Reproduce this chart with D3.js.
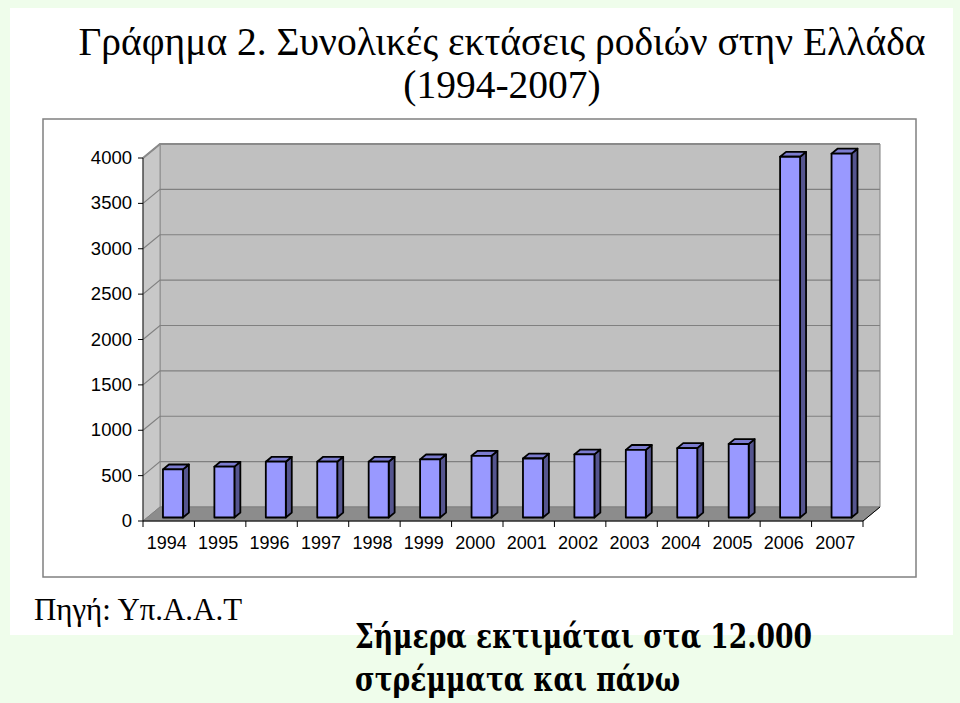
<!DOCTYPE html>
<html><head><meta charset="utf-8">
<script src="https://cdn.jsdelivr.net/npm/d3@7"></script>
<style>
html,body{margin:0;padding:0;background:#effdeb;}
svg{display:block;}
</style></head>
<body>
<svg id="c" width="960" height="703"></svg>
<script>
const years = ["1994","1995","1996","1997","1998","1999","2000","2001","2002","2003","2004","2005","2006","2007"];
const areas = [530, 560, 615, 615, 615, 640, 680, 650, 695, 745, 765, 810, 3975, 4010];
const yTicks = [0, 500, 1000, 1500, 2000, 2500, 3000, 3500, 4000];
const titleLines = ["Γράφημα 2. Συνολικές εκτάσεις ροδιών στην Ελλάδα", "(1994-2007)"];
const sourceText = "Πηγή: Υπ.Α.Α.Τ";
const noteLines = ["Σήμερα εκτιμάται στα 12.000", "στρέμματα και πάνω"];

const svg = d3.select("#c");
// white panel
svg.append("rect").attr("x",10).attr("y",8).attr("width",943).attr("height",627).attr("fill","#ffffff");

// title
svg.append("g").selectAll("text").data(titleLines).join("text")
  .attr("x",502).attr("y",(d,i)=>55+i*43).attr("text-anchor","middle")
  .attr("font-family","Liberation Serif, Times New Roman, serif").attr("font-size",39.5).attr("fill","#000")
  .text(d=>d);

// chart box
svg.append("rect").attr("x",43).attr("y",119).attr("width",873).attr("height",458)
  .attr("fill","#fff").attr("stroke","#808080").attr("stroke-width",1.5);

// 3D geometry
const DX = 17, DY = 14;
const x = d3.scaleBand().domain(years).range([143, 863]).padding(0);
const y = d3.scaleLinear().domain([0, 4000]).range([521, 158]);
const P = (px, py, f) => [px + f*DX, py - f*DY];
const poly = pts => "M" + pts.map(p=>p.join(",")).join("L") + "Z";

const g = svg.append("g");
const x0 = x.range()[0], x1 = x.range()[1];
g.append("path").attr("d", poly([P(x0,y(0),1),P(x1,y(0),1),P(x1,y(4000),1),P(x0,y(4000),1)]))
  .attr("fill","#c0c0c0").attr("stroke","#808080").attr("stroke-width",1);
g.append("path").attr("d", poly([P(x0,y(0),0),P(x0,y(0),1),P(x0,y(4000),1),P(x0,y(4000),0)]))
  .attr("fill","#c8c8c8").attr("stroke","#909090").attr("stroke-width",1);
g.append("path").attr("d", poly([P(x0,y(0),0),P(x1,y(0),0),P(x1,y(0),1),P(x0,y(0),1)]))
  .attr("fill","#8c8c8c").attr("stroke","#808080").attr("stroke-width",1);
g.selectAll(".grid").data(yTicks.filter(t=>t>0)).join("path")
  .attr("d", t => "M"+P(x0,y(t),0).join(",")+"L"+P(x0,y(t),1).join(",")+"L"+P(x1,y(t),1).join(","))
  .attr("fill","none").attr("stroke","#808080").attr("stroke-width",1.2);
g.append("path").attr("d","M"+P(x0,y(4000),0).join(",")+"L"+P(x0,y(4000),1).join(",")+"L"+P(x1,y(4000),1).join(","))
  .attr("fill","none").attr("stroke","#8a8a8a").attr("stroke-width",2);

g.selectAll(".yt").data(yTicks).join("line")
  .attr("x1",x0-5).attr("x2",x0).attr("y1",d=>y(d)).attr("y2",d=>y(d)).attr("stroke","#000");
g.append("line").attr("x1",x0).attr("x2",x0).attr("y1",y(0)).attr("y2",y(4000)).attr("stroke","#000").attr("stroke-width",0.8);
g.selectAll(".yl").data(yTicks).join("text")
  .attr("x",x0-11).attr("y",d=>y(d)+6).attr("text-anchor","end")
  .attr("font-family","Liberation Sans, Arial, sans-serif").attr("font-size",18.5).text(d=>d);

g.append("path").attr("d","M"+x0+","+y(0)+"L"+x1+","+y(0)+"L"+P(x1,y(0),1).join(","))
  .attr("fill","none").attr("stroke","#000").attr("stroke-width",1);
g.selectAll(".xt").data(years.concat(["end"])).join("line")
  .attr("x1",(d,i)=>x0+i*x.bandwidth()).attr("x2",(d,i)=>x0+i*x.bandwidth())
  .attr("y1",y(0)).attr("y2",y(0)+6).attr("stroke","#000");
g.selectAll(".xl").data(years).join("text")
  .attr("x",d=>x(d)+x.bandwidth()/2-2).attr("y",y(0)+28).attr("text-anchor","middle")
  .attr("font-family","Liberation Sans, Arial, sans-serif").attr("font-size",18).text(d=>d);

const fF = 0.25, fB = 0.6, BW = 20;
const bars = g.selectAll(".bar").data(years.map((yr,i)=>({yr, v:areas[i]}))).join("g");
bars.each(function(d){
  const gg = d3.select(this);
  const cx = x(d.yr) + x.bandwidth()/2;
  const l = cx - BW/2, r = cx + BW/2;
  const yt = y(d.v), yb = y(0);
  gg.append("path").attr("d", poly([P(r,yb,fF),P(r,yb,fB),P(r,yt,fB),P(r,yt,fF)]))
    .attr("fill","#55558f").attr("stroke","#000").attr("stroke-width",1.8).attr("stroke-linejoin","round");
  gg.append("path").attr("d", poly([P(l,yt,fF),P(r,yt,fF),P(r,yt,fB),P(l,yt,fB)]))
    .attr("fill","#7c7cd0").attr("stroke","#000").attr("stroke-width",1.8).attr("stroke-linejoin","round");
  gg.append("path").attr("d", poly([P(l,yb,fF),P(r,yb,fF),P(r,yt,fF),P(l,yt,fF)]))
    .attr("fill","#9999ff").attr("stroke","#000").attr("stroke-width",1.8).attr("stroke-linejoin","round");
});

svg.append("text").attr("x",34).attr("y",620)
  .attr("font-family","Liberation Serif, Times New Roman, serif").attr("font-size",32)
  .attr("textLength",208).attr("lengthAdjust","spacingAndGlyphs").text(sourceText);
const noteLen = [457, 325];
svg.append("g").selectAll("text").data(noteLines).join("text")
  .attr("x",355).attr("y",(d,i)=>648+i*43)
  .attr("font-family","DejaVu Serif, serif").attr("font-weight","bold").attr("font-size",34)
  .attr("textLength",(d,i)=>noteLen[i]).attr("lengthAdjust","spacingAndGlyphs")
  .text(d=>d);
</script>
</body></html>
